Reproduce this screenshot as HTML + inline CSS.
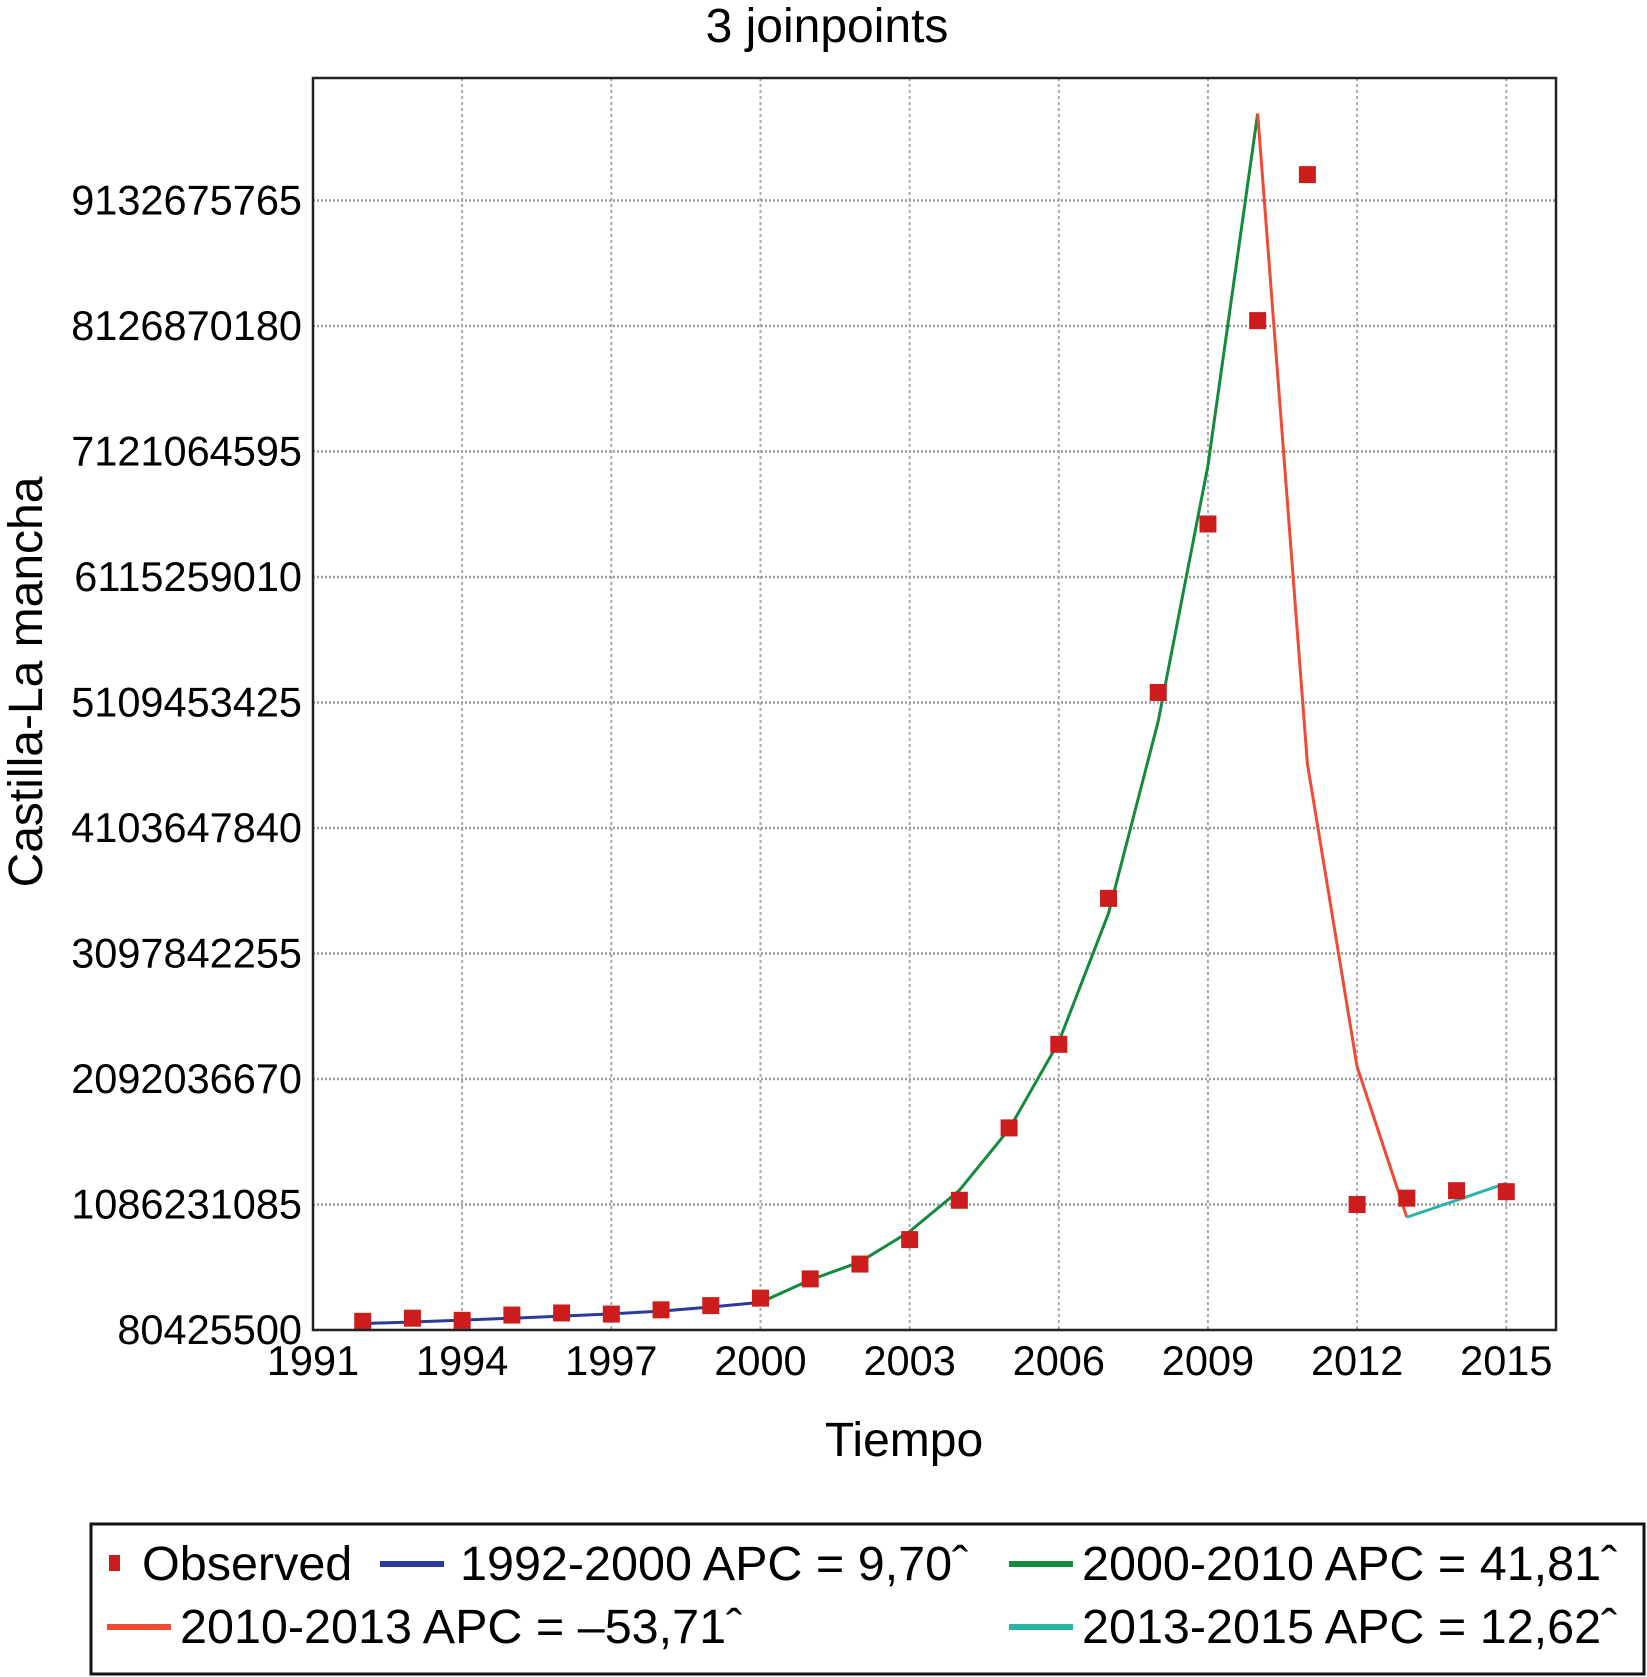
<!DOCTYPE html>
<html><head><meta charset="utf-8"><style>
html,body{margin:0;padding:0;background:#fff;}
svg{display:block;font-family:"Liberation Sans",Arial,sans-serif;}
</style></head><body>
<svg id="chart" width="1647" height="1677" viewBox="0 0 1647 1677">
<text x="827" y="42" font-size="48" text-anchor="middle">3 joinpoints</text>
<g id="grid"></g>
<g id="yticks"></g>
<g id="xticks"></g>
<g id="lines"></g>
<g id="points"></g>
<rect x="313" y="78" width="1243" height="1252" fill="none" stroke="#222" stroke-width="2.5"/>
<text transform="translate(42,682) rotate(-90)" font-size="48" text-anchor="middle">Castilla-La mancha</text>
<text x="904" y="1456" font-size="48" text-anchor="middle">Tiempo</text>
<g>
<rect x="91" y="1524" width="1553" height="150" fill="#fff" stroke="#111" stroke-width="3"/>
<rect x="109" y="1555" width="11" height="16" fill="#cc1c1c"/>
<text x="142" y="1580" font-size="48.5">Observed</text>
<line x1="380" y1="1564" x2="444" y2="1564" stroke="#2b3a9a" stroke-width="6"/>
<text x="460" y="1580" font-size="48.5">1992-2000 APC = 9,70ˆ</text>
<line x1="1009" y1="1564" x2="1073" y2="1564" stroke="#148a3c" stroke-width="6"/>
<text x="1082" y="1580" font-size="48.5">2000-2010 APC = 41,81ˆ</text>
<line x1="107" y1="1627" x2="171" y2="1627" stroke="#ee4b34" stroke-width="6"/>
<text x="180" y="1643" font-size="48.5">2010-2013 APC = –53,71ˆ</text>
<line x1="1009" y1="1627" x2="1073" y2="1627" stroke="#2bb5a8" stroke-width="6"/>
<text x="1082" y="1643" font-size="48.5">2013-2015 APC = 12,62ˆ</text>
</g>
</svg>
<script>
const yTicks=[80425500,1086231085,2092036670,3097842255,4103647840,5109453425,6115259010,7121064595,8126870180,9132675765];
const xTicks=[1991,1994,1997,2000,2003,2006,2009,2012,2015];
const obsYears=[1992,1993,1994,1995,1996,1997,1998,1999,2000,2001,2002,2003,2004,2005,2006,2007,2008,2009,2010,2011,2012,2013,2014,2015];
const obsValues=[0.150e9,0.175e9,0.158e9,0.200e9,0.217e9,0.208e9,0.242e9,0.276e9,0.336e9,0.49e9,0.609e9,0.805e9,1.120e9,1.70e9,2.37e9,3.54e9,5.19e9,6.54e9,8.17e9,9.34e9,1.086e9,1.137e9,1.197e9,1.189e9];
const blueYears=[1992,1993,1994,1995,1996,1997,1998,1999,2000];
const blueValues=[0.132e9,0.145e9,0.160e9,0.175e9,0.192e9,0.210e9,0.232e9,0.265e9,0.302e9];
const greenYears=[2000,2001,2002,2003,2004,2005,2006,2007,2008,2009,2010];
const greenValues=[0.302e9,0.481e9,0.626e9,0.87e9,1.20e9,1.69e9,2.39e9,3.42e9,4.96e9,7.01e9,9.83e9];
const redYears=[2010,2011,2012,2013];
const redValues=[9.83e9,4.62e9,2.19e9,0.984e9];
const cyanYears=[2013,2014,2015];
const cyanValues=[0.984e9,1.120e9,1.257e9];

const NS="http://www.w3.org/2000/svg";
const L=313,R=1556,T=78,B=1330;
const xMin=1991,xMax=2016;
const yMin=80425500,yStepPx=125.5,yStep=1005805585;
function xs(v){return L+(v-xMin)/(xMax-xMin)*(R-L);}
function ys(v){return B-(v-yMin)/yStep*yStepPx;}
function mk(tag,attrs,parent){const e=document.createElementNS(NS,tag);for(const k in attrs)e.setAttribute(k,attrs[k]);parent.appendChild(e);return e;}
const grid=document.getElementById('grid'),yt=document.getElementById('yticks'),xt=document.getElementById('xticks');
yTicks.forEach(v=>{
  const y=ys(v);
  const g=mk('line',{x1:L,x2:R,y1:y,y2:y,stroke:'#9a9a9a','stroke-width':2.5,'stroke-dasharray':'2 2'},grid);
  
  
  const t=mk('text',{x:302,y:y+14,'font-size':41.5,'text-anchor':'end'},yt);
  t.textContent=v;
  
  
});
xTicks.forEach(v=>{
  const x=xs(v);
  if(v>xMin){
    const g=mk('line',{x1:x,x2:x,y1:T,y2:B,stroke:'#a8a8a8','stroke-width':2,'stroke-dasharray':'3 3'},grid);
    
    
  }
  const t=mk('text',{x:x,y:1375,'font-size':41.5,'text-anchor':'middle'},xt);
  t.textContent=v;
  
  
});
const lines=document.getElementById('lines');
function seg(years,vals,color,name){
  const pts=years.map((yr,i)=>xs(yr)+','+ys(vals[i])).join(' ');
  const p=mk('polyline',{points:pts,fill:'none',stroke:color,'stroke-width':3,'stroke-linejoin':'round'},lines);
  
  
}
const pg=document.getElementById('points');
obsYears.forEach((yr,i)=>{
  const r=mk('rect',{x:xs(yr)-8.5,y:ys(obsValues[i])-8.5,width:17,height:17,fill:'#cc1c1c'},pg);
  
  
});
seg(blueYears,blueValues,'#2b3a9a','line-1992-2000');
seg(greenYears,greenValues,'#148a3c','line-2000-2010');
seg(redYears,redValues,'#ee4b34','line-2010-2013');
seg(cyanYears,cyanValues,'#2bb5a8','line-2013-2015');
</script>
</body></html>
